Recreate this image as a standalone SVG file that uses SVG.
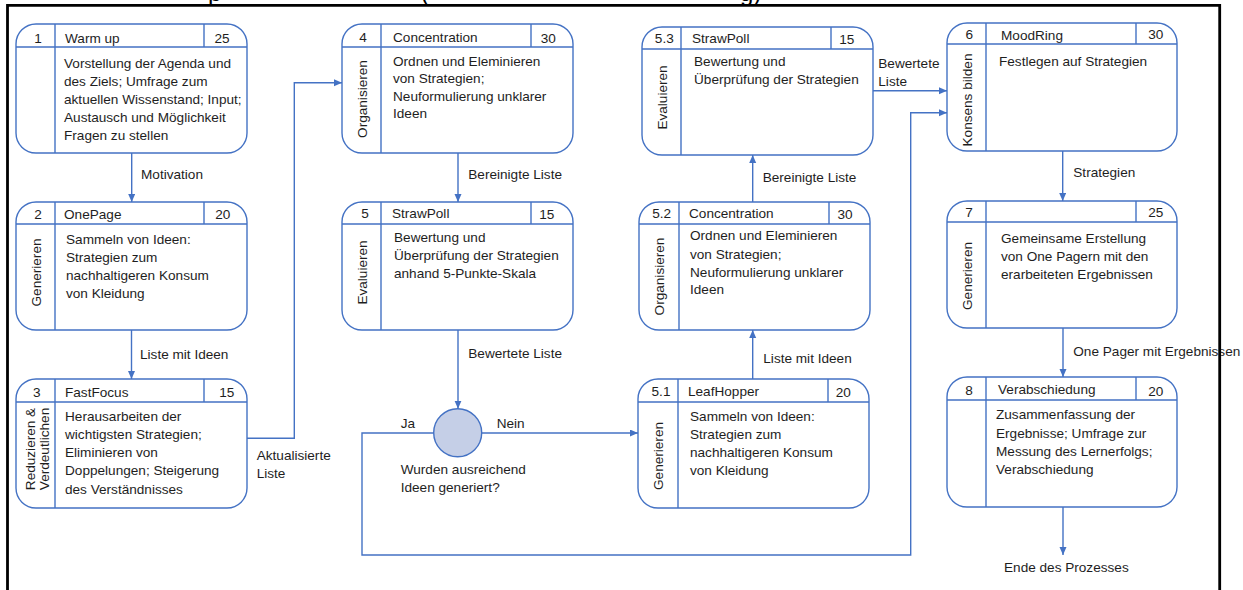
<svg xmlns="http://www.w3.org/2000/svg" width="1243" height="590" viewBox="0 0 1243 590">
<style>
.box{fill:#fff;stroke:#4472c4;stroke-width:1.4}
.ln{fill:none;stroke:#4472c4;stroke-width:1.4}
.t{font-family:"Liberation Sans",Arial,sans-serif;font-size:13.6px;fill:#1e1e1e}
.m{text-anchor:middle}
.ttl{font-family:"Liberation Sans",Arial,sans-serif;font-size:24px;fill:#000}
</style>
<defs>
<marker id="ah" markerUnits="userSpaceOnUse" markerWidth="8" markerHeight="8" refX="8" refY="3.5" orient="auto">
<path d="M0,0 L8,3.5 L0,7 z" fill="#4472c4"/>
</marker>
</defs>
<rect width="1243" height="590" fill="#fff"/>

<g id="title">
<text class="ttl" x="208" y="1">p</text>
<text class="ttl" x="421" y="1">(</text>
<text class="ttl" x="740" y="1">g)</text>
</g>

<g id="connectors">
<line class="ln" x1="131.7" y1="153" x2="131.7" y2="202" marker-end="url(#ah)"/>
<line class="ln" x1="131.5" y1="330" x2="131.5" y2="379" marker-end="url(#ah)"/>
<path class="ln" d="M247,438.3 H294.3 V82.7 H342" marker-end="url(#ah)"/>
<line class="ln" x1="458" y1="153" x2="458" y2="202" marker-end="url(#ah)"/>
<line class="ln" x1="458" y1="330" x2="458" y2="408.7" marker-end="url(#ah)"/>
<line class="ln" x1="481.7" y1="433" x2="638" y2="433" marker-end="url(#ah)"/>
<path class="ln" d="M433.7,433 H362 V555 H910.7 V112.7 H947" marker-end="url(#ah)"/>
<line class="ln" x1="752.7" y1="379" x2="752.7" y2="330" marker-end="url(#ah)"/>
<line class="ln" x1="752.7" y1="202" x2="752.7" y2="155" marker-end="url(#ah)"/>
<line class="ln" x1="873" y1="90.7" x2="947" y2="90.7" marker-end="url(#ah)"/>
<line class="ln" x1="1062.7" y1="151" x2="1062.7" y2="201" marker-end="url(#ah)"/>
<line class="ln" x1="1063" y1="328" x2="1063" y2="377" marker-end="url(#ah)"/>
<line class="ln" x1="1063" y1="507" x2="1063" y2="555" marker-end="url(#ah)"/>
<text class="t" x="141" y="179">Motivation</text>
<text class="t" x="140" y="359">Liste mit Ideen</text>
<text class="t" x="256.7" y="460">Aktualisierte</text>
<text class="t" x="256.7" y="478.3">Liste</text>
<text class="t" x="468.3" y="179">Bereinigte Liste</text>
<text class="t" x="468.3" y="357.7">Bewertete Liste</text>
<text class="t" x="400.7" y="427.7">Ja</text>
<text class="t" x="496.7" y="427.7">Nein</text>
<text class="t" x="763.3" y="362.7">Liste mit Ideen</text>
<text class="t" x="762.7" y="181.7">Bereinigte Liste</text>
<text class="t" x="878.3" y="68.3">Bewertete</text>
<text class="t" x="878.3" y="86">Liste</text>
<text class="t" x="1073.3" y="177.3">Strategien</text>
<text class="t" x="1073.3" y="355.7">One Pager mit Ergebnissen</text>
<text class="t" x="1004" y="571.7">Ende des Prozesses</text>
</g>

<g id="decision">
<circle cx="457.7" cy="432.7" r="24" fill="#c5cfe7" stroke="#4472c4" stroke-width="1.4"/>
<text class="t" x="400.7" y="474">Wurden ausreichend</text>
<text class="t" x="400.7" y="492.3">Ideen generiert?</text>
</g>

<g id="n1">
<rect class="box" x="16" y="24" width="231" height="129" rx="20"/>
<path class="ln" d="M16,47 H247 M55,24 V153 M204,24 V47"/>
<text class="t m" x="38" y="42.5">1</text>
<text class="t" x="65" y="42.5">Warm up</text>
<text class="t m" x="222" y="42.5">25</text>
<text class="t" x="64" y="67.7">Vorstellung der Agenda und</text>
<text class="t" x="64" y="85.7">des Ziels; Umfrage zum</text>
<text class="t" x="64" y="103.6">aktuellen Wissenstand; Input;</text>
<text class="t" x="64" y="121.6">Austausch und Möglichkeit</text>
<text class="t" x="64" y="139.5">Fragen zu stellen</text>
</g>

<g id="n2">
<rect class="box" x="16" y="202" width="231" height="128" rx="20"/>
<path class="ln" d="M16,224 H247 M55,202 V330 M204,202 V224"/>
<text class="t m" x="38" y="218.5">2</text>
<text class="t" x="64" y="218.5">OnePage</text>
<text class="t m" x="222.7" y="218.5">20</text>
<text class="t m" transform="translate(41,272.5) rotate(-90)">Generieren</text>
<text class="t" x="66" y="244.3">Sammeln von Ideen:</text>
<text class="t" x="66" y="262.3">Strategien zum</text>
<text class="t" x="66" y="280.3">nachhaltigeren Konsum</text>
<text class="t" x="66" y="298">von Kleidung</text>
</g>

<g id="n3">
<rect class="box" x="16" y="379" width="231" height="129" rx="20"/>
<path class="ln" d="M16,402 H247 M55,379 V508 M204,379 V402"/>
<text class="t m" x="36.7" y="396.7">3</text>
<text class="t" x="65" y="396.7">FastFocus</text>
<text class="t m" x="226.7" y="396.7">15</text>
<text class="t m" transform="translate(34.5,449) rotate(-90)">Reduzieren &amp;</text>
<text class="t m" transform="translate(49,449) rotate(-90)">Verdeutlichen</text>
<text class="t" x="65" y="420.7">Herausarbeiten der</text>
<text class="t" x="65" y="438.9">wichtigsten Strategien;</text>
<text class="t" x="65" y="457.1">Eliminieren von</text>
<text class="t" x="65" y="475.4">Doppelungen; Steigerung</text>
<text class="t" x="65" y="493.5">des Verständnisses</text>
</g>

<g id="n4">
<rect class="box" x="342" y="24" width="231" height="129" rx="20"/>
<path class="ln" d="M342,47 H573 M381,24 V153 M531,24 V47"/>
<text class="t m" x="363" y="41.5">4</text>
<text class="t" x="393" y="41.5">Concentration</text>
<text class="t m" x="548.3" y="42.5">30</text>
<text class="t m" transform="translate(366.5,99) rotate(-90)">Organisieren</text>
<text class="t" x="393" y="65.7">Ordnen und Eleminieren</text>
<text class="t" x="393" y="83.3">von Strategien;</text>
<text class="t" x="393" y="100.8">Neuformulierung unklarer</text>
<text class="t" x="393" y="118.3">Ideen</text>
</g>

<g id="n5">
<rect class="box" x="342" y="202" width="231" height="128" rx="20"/>
<path class="ln" d="M342,224 H573 M381,202 V330 M531,202 V224"/>
<text class="t m" x="365" y="218">5</text>
<text class="t" x="392" y="218">StrawPoll</text>
<text class="t m" x="546.7" y="219">15</text>
<text class="t m" transform="translate(366.5,272.5) rotate(-90)">Evaluieren</text>
<text class="t" x="394" y="241.7">Bewertung und</text>
<text class="t" x="394" y="260.3">Überprüfung der Strategien</text>
<text class="t" x="394" y="278.3">anhand 5-Punkte-Skala</text>
</g>

<g id="n5_3">
<rect class="box" x="642" y="27" width="231" height="128" rx="20"/>
<path class="ln" d="M642,49 H873 M681,27 V155 M831,27 V49"/>
<text class="t m" x="664.3" y="43">5.3</text>
<text class="t" x="692" y="43">StrawPoll</text>
<text class="t m" x="846.7" y="44">15</text>
<text class="t m" transform="translate(666.5,97.5) rotate(-90)">Evaluieren</text>
<text class="t" x="694" y="66">Bewertung und</text>
<text class="t" x="694" y="84">Überprüfung der Strategien</text>
</g>

<g id="n5_2">
<rect class="box" x="639" y="202" width="231" height="128" rx="20"/>
<path class="ln" d="M639,224 H870 M679,202 V330 M829,202 V224"/>
<text class="t m" x="661.7" y="218">5.2</text>
<text class="t" x="689" y="218">Concentration</text>
<text class="t m" x="845" y="219">30</text>
<text class="t m" transform="translate(664,276.5) rotate(-90)">Organisieren</text>
<text class="t" x="690" y="240.3">Ordnen und Eleminieren</text>
<text class="t" x="690" y="258.7">von Strategien;</text>
<text class="t" x="690" y="276.8">Neuformulierung unklarer</text>
<text class="t" x="690" y="294.3">Ideen</text>
</g>

<g id="n5_1">
<rect class="box" x="638" y="379" width="231" height="129" rx="20"/>
<path class="ln" d="M638,402 H869 M678,379 V508 M828,379 V402"/>
<text class="t m" x="661" y="396">5.1</text>
<text class="t" x="688" y="395.7">LeafHopper</text>
<text class="t m" x="843.3" y="396.5">20</text>
<text class="t m" transform="translate(663,456) rotate(-90)">Generieren</text>
<text class="t" x="690" y="420.7">Sammeln von Ideen:</text>
<text class="t" x="690" y="439">Strategien zum</text>
<text class="t" x="690" y="457.3">nachhaltigeren Konsum</text>
<text class="t" x="690" y="475">von Kleidung</text>
</g>

<g id="n6">
<rect class="box" x="947" y="23" width="230" height="128" rx="20"/>
<path class="ln" d="M947,44 H1177 M986,23 V151 M1136,23 V44"/>
<text class="t m" x="969.3" y="38.5">6</text>
<text class="t" x="1001" y="39.5">MoodRing</text>
<text class="t m" x="1155.7" y="38.5">30</text>
<text class="t m" transform="translate(971.5,100) rotate(-90)">Konsens bilden</text>
<text class="t" x="999" y="65.7">Festlegen auf Strategien</text>
</g>

<g id="n7">
<rect class="box" x="947" y="201" width="230" height="127" rx="20"/>
<path class="ln" d="M947,222 H1177 M986,201 V328 M1136,201 V222"/>
<text class="t m" x="969" y="216.7">7</text>
<text class="t m" x="1155.7" y="216.7">25</text>
<text class="t m" transform="translate(971.5,276) rotate(-90)">Generieren</text>
<text class="t" x="1001" y="243.3">Gemeinsame Erstellung</text>
<text class="t" x="1001" y="261">von One Pagern mit den</text>
<text class="t" x="1001" y="279">erarbeiteten Ergebnissen</text>
</g>

<g id="n8">
<rect class="box" x="947" y="377" width="230" height="130" rx="20"/>
<path class="ln" d="M947,400 H1177 M986,377 V507 M1136,377 V400"/>
<text class="t m" x="969" y="394.5">8</text>
<text class="t" x="998" y="394">Verabschiedung</text>
<text class="t m" x="1155.7" y="395.5">20</text>
<text class="t" x="996" y="419.3">Zusammenfassung der</text>
<text class="t" x="996" y="437.5">Ergebnisse; Umfrage zur</text>
<text class="t" x="996" y="455.7">Messung des Lernerfolgs;</text>
<text class="t" x="996" y="473.5">Verabschiedung</text>
</g>

<g id="frame">
<path d="M7.5,591 V5.4 H1219.7 V591" fill="none" stroke="#000" stroke-width="2.8"/>
</g>
</svg>
